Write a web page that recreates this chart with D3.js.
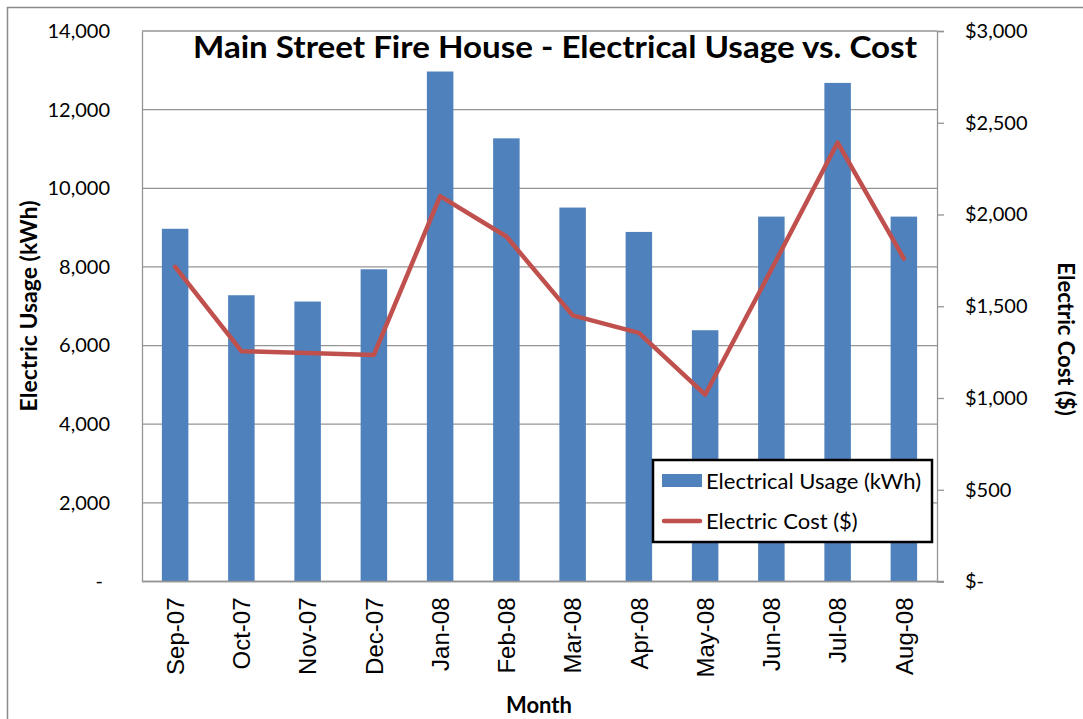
<!DOCTYPE html>
<html><head><meta charset="utf-8">
<script src="https://cdn.jsdelivr.net/npm/d3@7"></script>
<style>body{margin:0;background:#fff;} svg{display:block;}</style>
</head><body>
<svg id="c" width="1083" height="719"></svg>
<script>
const months = ["Sep-07","Oct-07","Nov-07","Dec-07","Jan-08","Feb-08","Mar-08","Apr-08","May-08","Jun-08","Jul-08","Aug-08"];
const usage = [8970,7280,7120,7940,12970,11270,9510,8890,6390,9280,12680,9280];
const cost = [1715,1255,1245,1235,2100,1880,1450,1355,1018,1700,2392,1760];
const usageTicks = [0,2000,4000,6000,8000,10000,12000,14000];
const costTicks = [0,500,1000,1500,2000,2500,3000];
const titleText = "Main Street Fire House - Electrical Usage vs. Cost";
const seriesNames = ["Electrical Usage (kWh)","Electric Cost ($)"];

const svg = d3.select("#c");
const L = 142, R = 937, T = 31, B = 581.5;
const gray = "#959595";
const barColor = "#4F81BD", lineColor = "#C0504D";
const font = "Lato, 'Open Sans', sans-serif";

const x = d3.scaleBand().domain(months).range([L, R]).paddingInner(0.6).paddingOuter(0.3);
const yL = d3.scaleLinear().domain([0, 14000]).range([B, T]);
const yR = d3.scaleLinear().domain([0, 3000]).range([B, T]);

// outer frame
svg.append("rect").attr("x", 7.5).attr("y", 7.5).attr("width", 1090).attr("height", 730)
  .attr("fill", "none").attr("stroke", "#8a8a8a").attr("stroke-width", 1.5);

// gridlines
svg.append("g").selectAll("line").data(usageTicks).join("line")
  .attr("x1", L).attr("x2", R).attr("y1", d => yL(d)).attr("y2", d => yL(d))
  .attr("stroke", gray).attr("stroke-width", 1.3);

// bars
svg.append("g").selectAll("rect").data(months).join("rect")
  .attr("x", d => x(d)).attr("width", x.bandwidth())
  .attr("y", (d, i) => yL(usage[i])).attr("height", (d, i) => B - yL(usage[i]))
  .attr("fill", barColor);

// line
const line = d3.line().x((d, i) => x(months[i]) + x.bandwidth() / 2).y(d => yR(d));
svg.append("path").datum(cost).attr("d", line).attr("fill", "none")
  .attr("stroke", lineColor).attr("stroke-width", 4.5).attr("stroke-linejoin", "round").attr("stroke-linecap", "round");

// axes
const fmt = d3.format(",");
const gL = svg.append("g").attr("transform", `translate(${L},0)`)
  .call(d3.axisLeft(yL).tickValues(usageTicks).tickSize(0).tickPadding(32)
    .tickFormat(d => d === 0 ? "-" : fmt(d)));
gL.select(".domain").attr("stroke", gray).attr("stroke-width", 1.3);
gL.selectAll("text").attr("font-family", font).attr("font-size", 20).attr("fill", "#000")
  .attr("dx", d => d === 0 ? -7 : 0);

const gR = svg.append("g").attr("transform", `translate(${R},0)`)
  .call(d3.axisRight(yR).tickValues(costTicks).tickSize(7).tickPadding(21)
    .tickFormat(d => d === 0 ? "$-" : "$" + fmt(d)));
gR.select(".domain").attr("stroke", gray).attr("stroke-width", 1.3);
gR.selectAll(".tick line").attr("stroke", gray).attr("stroke-width", 1.3);
gR.selectAll("text").attr("font-family", font).attr("font-size", 20).attr("fill", "#000");

const gB = svg.append("g").attr("transform", `translate(0,${B})`)
  .call(d3.axisBottom(x).tickSize(0).tickPadding(0));
gB.select(".domain").attr("stroke", gray).attr("stroke-width", 1.3).attr("d", `M${L},0H${R + 7}`);
gB.selectAll("text").attr("font-family", "'Liberation Sans', Arial, sans-serif").attr("font-size", 24)
  .attr("fill", "#000").attr("text-anchor", "end").attr("dy", null).attr("y", null)
  .attr("transform", "translate(0,16) rotate(-90)").attr("dy", "0.36em");

// title
svg.append("text").attr("x", 555).attr("y", 58).attr("text-anchor", "middle")
  .attr("font-family", font).attr("font-weight", "bold").attr("font-size", 30)
  .attr("textLength", 724).attr("lengthAdjust", "spacingAndGlyphs").text(titleText);

// axis titles
svg.append("text").attr("transform", "translate(37,306) rotate(-90)").attr("text-anchor", "middle")
  .attr("font-family", font).attr("font-weight", "bold").attr("font-size", 23).text("Electric Usage (kWh)");
svg.append("text").attr("transform", "translate(1058,339) rotate(90)").attr("text-anchor", "middle")
  .attr("font-family", font).attr("font-weight", "bold").attr("font-size", 22).text("Electric Cost ($)");
svg.append("text").attr("x", 539).attr("y", 713).attr("text-anchor", "middle")
  .attr("font-family", font).attr("font-weight", "bold").attr("font-size", 22).text("Month");

// legend
const lg = svg.append("g");
lg.append("rect").attr("x", 653).attr("y", 460).attr("width", 279).attr("height", 82)
  .attr("fill", "#fff").attr("stroke", "#000").attr("stroke-width", 2.5);
lg.append("rect").attr("x", 662).attr("y", 474).attr("width", 40).attr("height", 13).attr("fill", barColor);
lg.append("line").attr("x1", 664).attr("x2", 700).attr("y1", 521).attr("y2", 521)
  .attr("stroke", lineColor).attr("stroke-width", 4.5).attr("stroke-linecap", "round");
lg.selectAll("text.lt").data(seriesNames).join("text").attr("class", "lt")
  .attr("x", 706).attr("y", (d, i) => i === 0 ? 481 : 521).attr("dy", "0.35em")
  .attr("font-family", font).attr("font-size", 22).attr("fill", "#000").text(d => d);
</script>
</body></html>
